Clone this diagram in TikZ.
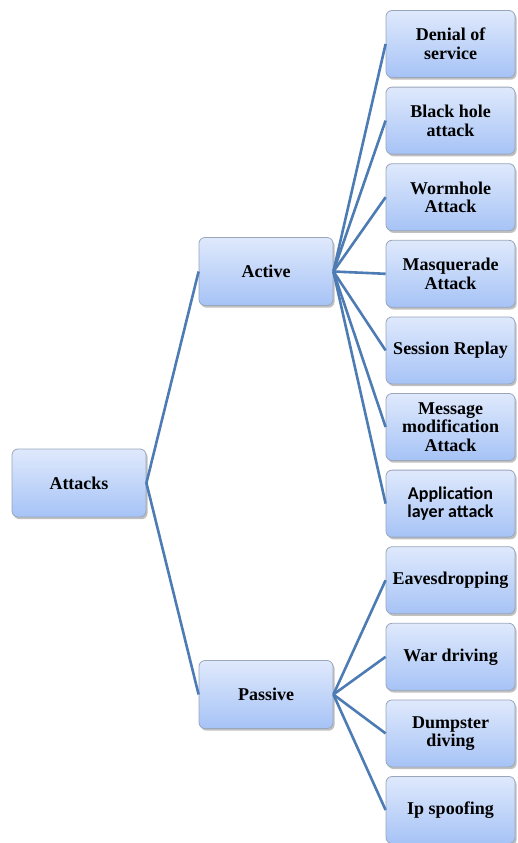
\documentclass[tikz,border=0pt]{standalone}
\usepackage{fontspec}
\setmainfont{Liberation Serif}
\newfontfamily\calib{Carlito}
\usetikzlibrary{shadows}
\definecolor{boxtop}{HTML}{DFE9FC}
\definecolor{boxbot}{HTML}{A6C3F6}
\definecolor{boxline}{HTML}{9AA6BC}
\definecolor{conn}{HTML}{4D7BB3}
\tikzset{
  box/.style={rectangle, rounded corners=6pt, draw=boxline, line width=0.8pt,
    top color=boxtop, bottom color=boxbot, align=center,
    font=\fontsize{18}{18.6}\selectfont\bfseries, inner sep=1pt,
    drop shadow={shadow xshift=1.6pt, shadow yshift=-2.2pt, fill=black!45, opacity=0.55}},
  leftbox/.style={box, minimum width=134pt, minimum height=68pt},
  rightbox/.style={box, minimum width=129pt, minimum height=67pt},
  conline/.style={draw=conn, line width=2.6pt}
}
\begin{document}
\begin{tikzpicture}[x=1pt,y=-1pt]
\useasboundingbox (0,0) rectangle (517,843);
\node[leftbox] (attacks) at (79,483) {Attacks};
\node[leftbox] (active) at (266,271.5) {Active};
\node[leftbox] (passive) at (266,694.5) {Passive};
\node[rightbox] (r1) at (450.5,44) {Denial of\\service};
\node[rightbox] (r2) at (450.5,120.6) {Black hole\\attack};
\node[rightbox] (r3) at (450.5,197.2) {Wormhole\\Attack};
\node[rightbox] (r4) at (450.5,273.8) {Masquerade\\Attack};
\node[rightbox] (r5) at (450.5,350.4) {Session Replay};
\node[rightbox] (r6) at (450.5,427) {Message\\modification\\Attack};
\node[rightbox] (r7) at (450.5,503.6) {\calib Application\\\calib layer attack};
\node[rightbox] (r8) at (450.5,580.2) {Eavesdropping};
\node[rightbox] (r9) at (450.5,656.8) {War driving};
\node[rightbox] (r10) at (450.5,733.4) {Dumpster\\diving};
\node[rightbox] (r11) at (450.5,810) {Ip spoofing};
\draw[conline] (attacks.east) -- (active.west);
\draw[conline] (attacks.east) -- (passive.west);
\foreach \r in {r1,r2,r3,r4,r5,r6,r7} \draw[conline] (active.east) -- (\r.west);
\foreach \r in {r8,r9,r10,r11} \draw[conline] (passive.east) -- (\r.west);
\end{tikzpicture}
\end{document}
